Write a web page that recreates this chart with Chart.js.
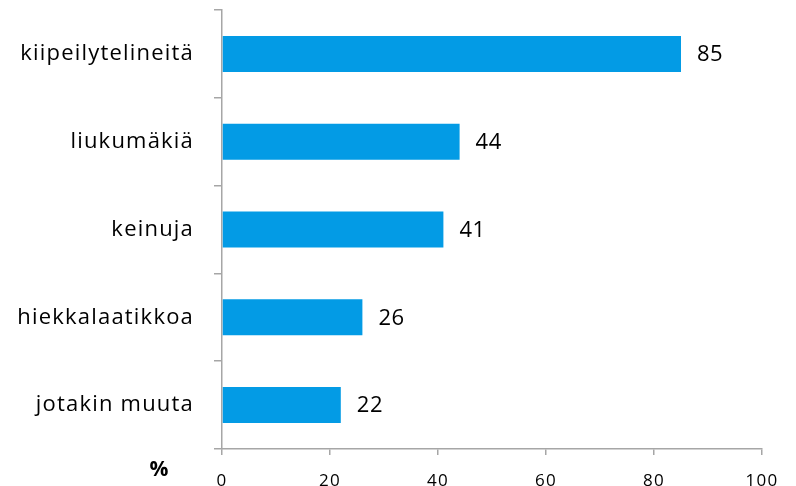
<!DOCTYPE html>
<html>
<head>
<meta charset="utf-8">
<script src="https://cdn.jsdelivr.net/npm/chart.js@4/dist/chart.umd.min.js"></script>
<style>
  html, body { margin: 0; padding: 0; background: #fff; }
  #wrap { width: 796px; height: 486px; }
</style>
</head>
<body>
<div id="wrap"><canvas id="Barchart"></canvas></div>
<script>
// data
let categories = ["kiipeilytelineitä", "liukumäkiä", "keinuja", "hiekkalaatikkoa", "jotakin muuta"];
let values = [85, 44, 41, 26, 22];
let xTicks = [0, 20, 40, 60, 80, 100];
let unitLabel = "%";

let fontName = "'Open Sans', sans-serif";
let axisGrey = "#a6a6a6";

// the original text is spaced a bit wider, so loosen the letters for the axes
let spacingPlugin = {
    id: "spacing",
    beforeDraw(chart) {
        chart.ctx.letterSpacing = "1.2px";
    },
    beforeDatasetsDraw(chart) {
        chart.ctx.letterSpacing = "0px";
    }
};

// draws the number after each bar and the % sign in the corner
let labelPlugin = {
    id: "barLabels",
    afterDatasetsDraw(chart) {
        let ctx = chart.ctx;
        let meta = chart.getDatasetMeta(0);
        ctx.save();
        ctx.letterSpacing = "0.5px";
        ctx.fillStyle = "#000";
        ctx.font = "22px " + fontName;
        ctx.textAlign = "left";
        ctx.textBaseline = "middle";
        meta.data.forEach(function (bar, i) {
            ctx.fillText(String(values[i]), bar.x + 16, bar.y + 1);
        });
        ctx.letterSpacing = "0px";
        ctx.font = "bold 21px " + fontName;
        ctx.textAlign = "center";
        let xs = chart.scales.x;
        ctx.fillText(unitLabel, 159, xs.top + 21);
        ctx.restore();
    }
};

let xAC = document.getElementById("Barchart");
new Chart(xAC, {
    type: "bar",
    data: {
        labels: categories,
        datasets: [{
            data: values,
            backgroundColor: "#039be5",
            barPercentage: 0.41,
            categoryPercentage: 1.0
        }]
    },
    options: {
        indexAxis: "y",
        responsive: true,
        maintainAspectRatio: false,
        animation: false,
        layout: { padding: { top: 10, right: 34, left: 0, bottom: 0 } },
        plugins: {
            legend: { display: false },
            title: { display: false },
            tooltip: { enabled: false }
        },
        scales: {
            y: {
                afterFit: function (s) {
                    s.width = 222;
                    s.paddingTop = 0;
                    s.paddingBottom = 0;
                },
                grid: {
                    drawOnChartArea: false,
                    drawTicks: true,
                    tickLength: 8,
                    color: axisGrey,
                    lineWidth: 1.5
                },
                border: { display: true, color: axisGrey, width: 1.5 },
                ticks: {
                    color: "#000",
                    padding: 20,
                    font: { family: fontName, size: 22 }
                }
            },
            x: {
                min: 0,
                max: 100,
                afterFit: function (s) {
                    s.height = 37;
                    s.paddingLeft = 0;
                    s.paddingRight = 0;
                },
                afterBuildTicks: function (s) {
                    s.ticks = xTicks.map(function (v) { return { value: v }; });
                },
                grid: {
                    drawOnChartArea: false,
                    drawTicks: true,
                    tickLength: 6,
                    color: axisGrey,
                    lineWidth: 1.5
                },
                border: { display: true, color: axisGrey, width: 1.5 },
                ticks: {
                    color: "#000",
                    padding: 16,
                    maxRotation: 0,
                    font: { family: fontName, size: 17 }
                }
            }
        }
    },
    plugins: [spacingPlugin, labelPlugin]
});
</script>
</body>
</html>
